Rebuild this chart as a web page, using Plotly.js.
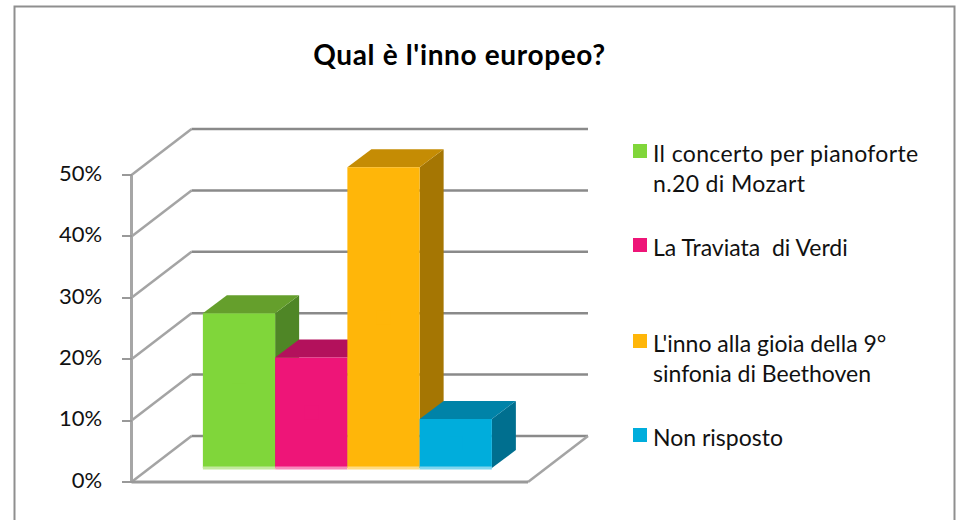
<!DOCTYPE html>
<html>
<head>
<meta charset="utf-8">
<script src="https://cdn.plot.ly/plotly-3.0.1.min.js"></script>
<style>
html,body{margin:0;padding:0;background:#fff;overflow:hidden}
#chart{width:959px;height:520px}
.legendpoints{transform:translate(7px,-2px)}
.legendtext{letter-spacing:.35px}
.gtitle{letter-spacing:.65px}
</style>
</head>
<body>
<div id="chart"></div>
<script>
var titleText = "Qual è l'inno europeo?";
var answers = ["Il concerto per pianoforte<br>n.20 di Mozart", "La Traviata  di Verdi", "L'inno alla gioia della 9°<br>sinfonia di Beethoven", "Non risposto"];
var percentages = [25.2, 18, 49, 8];
var frontColors = ["#80D63A", "#EE1578", "#FFB609", "#00ADDC"];
var topColors = ["#659F2C", "#B3115C", "#C58C04", "#0083A8"];
var sideColors = ["#4F8626", "#960E4D", "#A57603", "#006F8F"];
var baseColors = ["#C3E99E", "#F78ABB", "#FFDB84", "#80D6EE"];
var tickValues = [0, 10, 20, 30, 40, 50];
var legendCentres = [168, 247, 358, 437];

// Page pixels of the drawing box and of the front plane, and the pseudo-3D projection in axis units
var W = 959, H = 520, L = 112, R = 610, T = 110, B = 492;
var axisLeftPx = 131.5, axisRightPx = 528, zeroPx = 482, fiftyPx = 175;
var barPx = 72.25, firstBarPx = 239;
var pctPx = (zeroPx - fiftyPx) / 50;
var xMin = (L - firstBarPx) / barPx, xMax = (R - firstBarPx) / barPx;
var yMin = (zeroPx - B) / pctPx, yMax = (zeroPx - T) / pctPx;
var xAxisStart = (axisLeftPx - firstBarPx) / barPx, xAxisEnd = (axisRightPx - firstBarPx) / barPx;
var wallDX = 60 / barPx, wallDY = 46 / pctPx;
var barBase = 14 / pctPx, barDX = 24 / barPx, barDY = 18 / pctPx;

var traces = [];
function poly(xs, ys, color) {
  traces.push({type:"scatter", mode:"none", x:xs.concat(xs[0]), y:ys.concat(ys[0]), fill:"toself",
    fillcolor:color, showlegend:false, hoverinfo:"skip"});
}
function line(xs, ys, color, w) {
  traces.push({type:"scatter", mode:"lines", x:xs, y:ys, line:{color:color, width:w},
    showlegend:false, hoverinfo:"skip"});
}

// side wall, back wall and floor
tickValues.forEach(function (t) {
  line([xAxisStart, xAxisStart + wallDX], [t, t + wallDY], "#A4A4A4", 2.5);
  line([xAxisStart + wallDX, xAxisEnd + wallDX], [t + wallDY, t + wallDY], "#8A8A8A", 2.5);
});
line([xAxisEnd, xAxisEnd + wallDX], [0, wallDY], "#A4A4A4", 2.5);
// front axis lines
line([xAxisStart, xAxisStart], [0, 50], "#A6A6A6", 3);
line([xAxisStart, xAxisEnd], [0, 0], "#9A9A9A", 3);

// bars, painted from left to right
percentages.forEach(function (v, i) {
  var x0 = i - 0.5, x1 = i + 0.5, y0 = barBase, y1 = barBase + v;
  poly([x1, x1 + barDX, x1 + barDX, x1], [y0, y0 + barDY, y1 + barDY, y1], sideColors[i]);
  poly([x0, x1, x1 + barDX, x0 + barDX], [y1, y1, y1 + barDY, y1 + barDY], topColors[i]);
  poly([x0, x1, x1, x0], [y0, y0, y1, y1], frontColors[i]);
  line([x0, x1], [y0, y0], baseColors[i], 3);
  var key = i === 0 ? "legend" : "legend" + (i + 1);
  traces.push({type:"scatter", mode:"markers", x:[i], y:[y0 + v / 2], name:answers[i],
    marker:{symbol:"square", size:14, color:frontColors[i]}, legend:key, showlegend:true,
    hovertemplate:"%{fullData.name}: " + v + "%<extra></extra>"});
});

var FONT = "Lato, 'Noto Sans', sans-serif";
var layout = {
  width:W, height:H, paper_bgcolor:"#fff", plot_bgcolor:"rgba(0,0,0,0)",
  margin:{l:L, r:W - R, t:T, b:H - B, autoexpand:false},
  font:{family:FONT, color:"#111", size:22},
  title:{text:"<b>" + titleText + "</b>", x:459.5 / W, xref:"container", xanchor:"center",
         y:1 - 55 / H, yref:"container", yanchor:"middle", font:{family:FONT, size:28, color:"#000"}},
  xaxis:{range:[xMin, xMax], showgrid:false, zeroline:false, showticklabels:false, ticks:"", showline:false},
  yaxis:{range:[yMin, yMax], anchor:"free", position:(axisLeftPx - L) / (R - L),
         tickvals:tickValues, ticktext:tickValues.map(function(t){return t + "%";}),
         showgrid:false, zeroline:false, showline:false,
         ticks:"outside", ticklen:10, tickwidth:2, tickcolor:"#999", ticklabelstandoff:15, ticklabelshift:-2,
         tickfont:{family:FONT, size:22, color:"#111"}},
  shapes:[{type:"rect", xref:"paper", yref:"paper",
           x0:(14.5 - L) / (R - L), x1:(954.5 - L) / (R - L),
           y0:(B - 535) / (B - T), y1:(B - 6.5) / (B - T),
           line:{color:"#8F8F8F", width:2}, fillcolor:"rgba(0,0,0,0)", layer:"below"}]
};
legendCentres.forEach(function (c, i) {
  layout[i === 0 ? "legend" : "legend" + (i + 1)] = {
    x:(613 - L) / (R - L), xanchor:"left", y:(B - c) / (B - T), yanchor:"middle", valign:"top",
    bgcolor:"rgba(0,0,0,0)", borderwidth:0, font:{family:FONT, size:23, color:"#111"}
  };
});
Plotly.newPlot("chart", traces, layout, {displayModeBar:false, responsive:false});
</script>
</body>
</html>
